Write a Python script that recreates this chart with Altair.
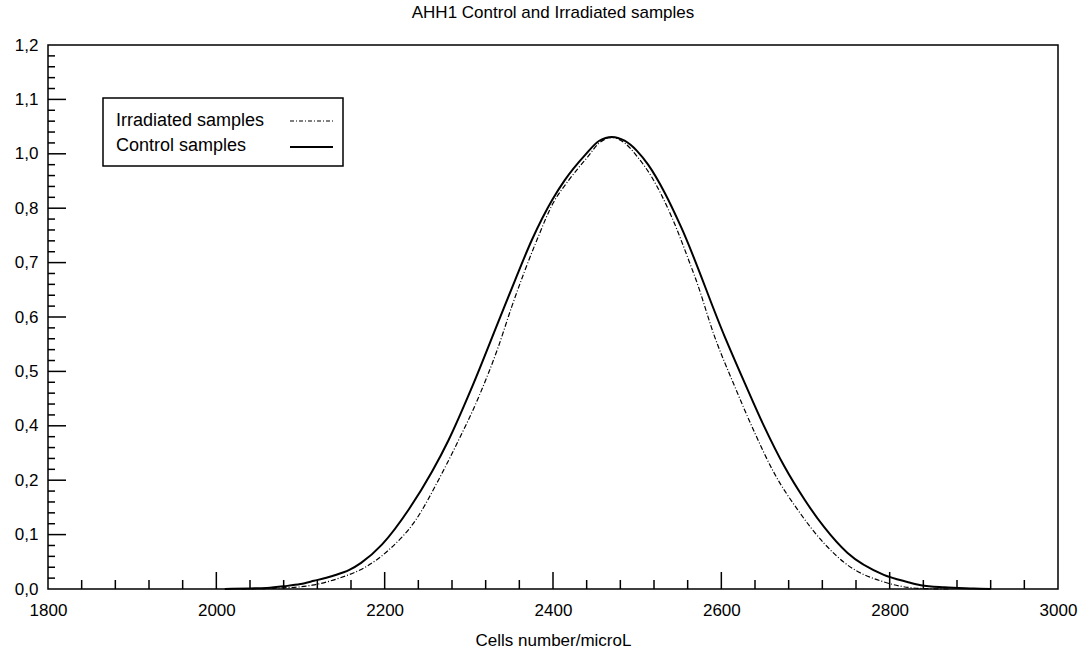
import altair as alt
import pandas as pd

# ---- data ----
series_names = ["Irradiated samples", "Control samples"]

x_ctrl = [2010, 2040, 2060, 2080, 2100, 2116, 2138, 2158, 2172, 2197, 2229, 2256, 2276,
          2304, 2335, 2355, 2375, 2399, 2414, 2438, 2455, 2470, 2485, 2500, 2513, 2533, 2552,
          2604, 2628, 2651, 2675, 2699, 2722, 2750, 2793, 2821, 2837, 2865, 2900, 2920]
y_ctrl = [0.0, 0.001, 0.002, 0.005, 0.009, 0.015, 0.024, 0.035, 0.048, 0.082, 0.147, 0.230, 0.348,
          0.472, 0.591, 0.668, 0.742, 0.830, 0.903, 0.995, 1.024, 1.031, 1.024, 1.005, 0.960, 0.855, 0.766,
          0.564, 0.478, 0.397, 0.250, 0.164, 0.114, 0.066, 0.026, 0.013, 0.007, 0.003, 0.001, 0.0]

x_irr = [2030, 2060, 2078, 2100, 2114, 2146, 2178, 2205, 2237, 2264, 2284, 2312, 2335, 2351,
         2381, 2400, 2418, 2441, 2455, 2470, 2485, 2500, 2517, 2541, 2564, 2570, 2592, 2616, 2640, 2663,
         2691, 2722, 2750, 2793, 2837, 2870]
y_irr = [0.0, 0.001, 0.002, 0.004, 0.007, 0.020, 0.041, 0.072, 0.127, 0.201, 0.323, 0.454, 0.545, 0.619,
         0.742, 0.818, 0.900, 0.988, 1.020, 1.030, 1.020, 0.990, 0.916, 0.784, 0.693, 0.668, 0.564, 0.472,
         0.372, 0.225, 0.145, 0.084, 0.044, 0.013, 0.001, 0.0]

y_tick_labels = [0.0, 0.1, 0.2, 0.4, 0.5, 0.6, 0.7, 0.8, 1.0, 1.1, 1.2]
x_tick_labels = [1800, 2000, 2200, 2400, 2600, 2800, 3000]
x_major = [2000, 2200, 2400, 2600, 2800]
x_minor = [v for v in range(1840, 3000, 40) if v % 200 != 0]
y_minor = []
for a, b in zip(y_tick_labels[:-1], y_tick_labels[1:]):
    for k in range(1, 5):
        y_minor.append(round(a + (b - a) * k / 5, 4))

title_text = "AHH1 Control and Irradiated samples"
x_title = "Cells number/microL"

# ---- layout ----
W, H = 1010, 544
FONT = "Liberation Sans"
FS = 17
y_range = [H - i * H / 10 for i in range(len(y_tick_labels))]

xscale = alt.Scale(domain=[1800, 3000], nice=False, zero=False)
yscale = alt.Scale(domain=y_tick_labels, range=y_range, nice=False, zero=False)

x_axis = alt.Axis(values=x_tick_labels, format="d", title=x_title, grid=False, ticks=False,
                  domain=False, labelFontSize=FS, labelFont=FONT, labelColor="black",
                  labelPadding=13, titleFontSize=FS, titleFont=FONT, titleFontWeight="normal",
                  titleColor="black", titlePadding=14, labelFlush=False)
y_axis = alt.Axis(values=y_tick_labels, title=None, grid=False, ticks=False, domain=False,
                  labelExpr="replace(format(datum.value, '.1f'), '.', ',')",
                  labelFontSize=FS, labelFont=FONT, labelColor="black", labelPadding=10,
                  labelFlush=False)

ctrl_df = pd.DataFrame({"x": x_ctrl, "y": y_ctrl, "series": series_names[1]})
irr_df = pd.DataFrame({"x": x_irr, "y": y_irr, "series": series_names[0]})

ctrl = alt.Chart(ctrl_df).mark_line(color="black", strokeWidth=2, interpolate="monotone").encode(
    x=alt.X("x:Q", scale=xscale, axis=x_axis),
    y=alt.Y("y:Q", scale=yscale, axis=y_axis),
)

irr = alt.Chart(irr_df).mark_line(color="black", strokeWidth=1.2, strokeDash=[5, 2, 1, 2],
                                  interpolate="monotone").encode(
    x=alt.X("x:Q", scale=xscale, axis=x_axis),
    y=alt.Y("y:Q", scale=yscale, axis=y_axis),
)

xmaj = alt.Chart(pd.DataFrame({"x": x_major})).mark_rule(color="black", strokeWidth=1.5).encode(
    x=alt.X("x:Q", scale=xscale, axis=x_axis), y=alt.value(H), y2=alt.value(H - 17))
xmin = alt.Chart(pd.DataFrame({"x": x_minor})).mark_rule(color="black", strokeWidth=1.5).encode(
    x=alt.X("x:Q", scale=xscale, axis=x_axis), y=alt.value(H), y2=alt.value(H - 9))
ymaj = alt.Chart(pd.DataFrame({"y": y_tick_labels[1:-1]})).mark_rule(color="black", strokeWidth=1.5).encode(
    y=alt.Y("y:Q", scale=yscale, axis=y_axis), x=alt.value(0), x2=alt.value(18))
ymin = alt.Chart(pd.DataFrame({"y": y_minor})).mark_rule(color="black", strokeWidth=1.5).encode(
    y=alt.Y("y:Q", scale=yscale, axis=y_axis), x=alt.value(0), x2=alt.value(7))

# ---- legend box ----
leg_df = pd.DataFrame({"name": series_names})
box = alt.Chart(leg_df.head(1)).mark_rect(fill="white", stroke="black", strokeWidth=1.5).encode(
    x=alt.value(55), x2=alt.value(295), y=alt.value(53), y2=alt.value(121))
leg_t1 = alt.Chart(leg_df.iloc[[0]]).mark_text(align="left", baseline="middle", fontSize=18,
                                                font=FONT, color="black").encode(
    text="name:N", x=alt.value(68), y=alt.value(76))
leg_t2 = alt.Chart(leg_df.iloc[[1]]).mark_text(align="left", baseline="middle", fontSize=18,
                                                font=FONT, color="black").encode(
    text="name:N", x=alt.value(68), y=alt.value(101))
leg_l1 = alt.Chart(leg_df.iloc[[0]]).mark_rule(color="black", strokeWidth=1.2, strokeDash=[4, 2, 1, 2]).encode(
    x=alt.value(242), x2=alt.value(285), y=alt.value(76))
leg_l2 = alt.Chart(leg_df.iloc[[1]]).mark_rule(color="black", strokeWidth=2).encode(
    x=alt.value(242), x2=alt.value(285), y=alt.value(102))

chart = alt.layer(ctrl, irr, xmaj, xmin, ymaj, ymin, box, leg_t1, leg_t2, leg_l1, leg_l2).properties(
    width=W, height=H,
    title=alt.TitleParams(title_text, fontSize=FS, font=FONT, fontWeight="normal", color="black",
                          anchor="middle", offset=14),
    autosize=alt.AutoSizeParams(type="none"),
    padding={"left": 48, "top": 45, "right": 20, "bottom": 64},
    background="white",
).configure_view(stroke="black", strokeWidth=1.5)

chart.save("out.html", embed_options={"renderer": "svg", "actions": False})
